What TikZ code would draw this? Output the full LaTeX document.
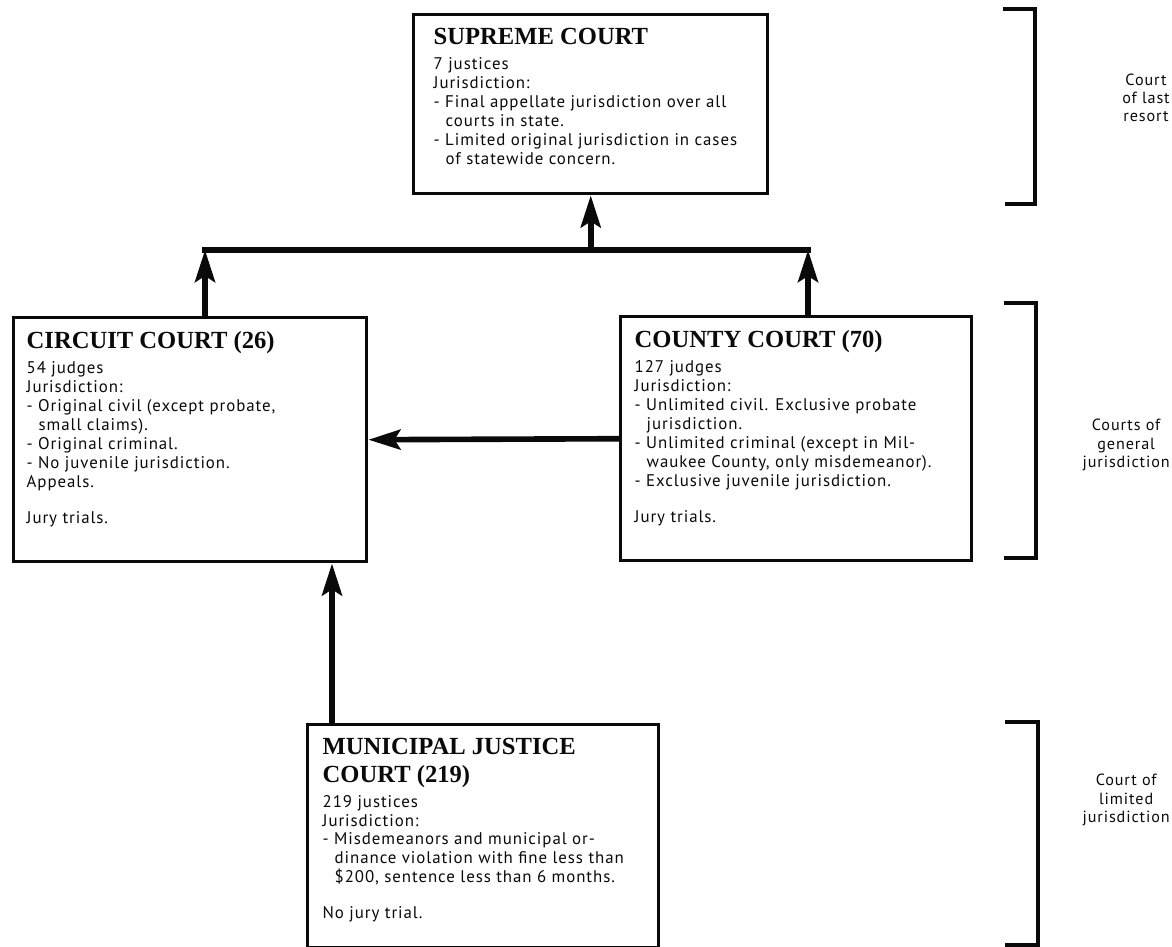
\documentclass[tikz,border=0pt]{standalone}
\usepackage{fontspec}
\usepackage{tikz}
\usetikzlibrary{arrows.meta, positioning}
\newfontfamily\headfont{Liberation Serif}
\newfontfamily\bodyfont{PT Sans}[LetterSpace=5.5]
\definecolor{ink}{HTML}{0A0A0A}
\newcommand{\courthead}{\headfont\bfseries\fontsize{17.5}{19.5}\selectfont}
\newcommand{\courttext}{\bodyfont\fontsize{12}{13.5}\selectfont}
\newcommand{\contind}{\hspace*{0.3cm}}
\tikzset{
  court/.style  ={draw=ink, line width=2.4pt, anchor=north west, inner ysep=0.35cm,
                  fill=white, text=ink},
  flow/.style   ={-{Stealth[length=8mm,width=5mm,inset=1.5mm]}, line width=4pt, draw=ink},
  rail/.style   ={line width=4pt, draw=ink, line cap=rect},
  bracket/.style={line width=2.2pt, draw=ink},
  tier/.style   ={font=\bodyfont\fontsize{11.5}{13}\selectfont, align=center, text=ink,
                  anchor=east, inner sep=0pt}
}

\begin{document}
\begin{tikzpicture}[x=0.025cm, y=-0.025cm]
  \useasboundingbox (0,0) rectangle (1172,947);

  % Courts
  \node[court, inner xsep=0.5cm] (supreme) at (412,13) {%
    \begin{minipage}[t][3.775cm][t]{7.85cm}\raggedright
      {\courthead SUPREME COURT\par}\vspace{4pt}
      \courttext 7 justices\\
      Jurisdiction:\\
      \mbox{- Final appellate jurisdiction over all}\\
      \contind courts in state.\\
      \mbox{- Limited original jurisdiction in cases}\\
      \contind of statewide concern.
    \end{minipage}};
  \node[court, inner xsep=0.325cm] (circuit) at (12,316) {%
    \begin{minipage}[t][5.4cm][t]{8.175cm}\raggedright
      {\courthead CIRCUIT COURT (26)\par}\vspace{4pt}
      \courttext 54 judges\\
      Jurisdiction:\\
      - Original civil (except probate,\\
      \contind small claims).\\
      - Original criminal.\\
      - No juvenile jurisdiction.\\
      Appeals.\\[12pt]
      Jury trials.
    \end{minipage}};
  \node[court, inner xsep=0.35cm] (county) at (619,315) {%
    \begin{minipage}[t][5.4cm][t]{8.075cm}\raggedright
      {\courthead COUNTY COURT (70)\par}\vspace{4pt}
      \courttext 127 judges\\
      Jurisdiction:\\
      \mbox{- Unlimited civil. Exclusive probate}\\
      \contind jurisdiction.\\
      \mbox{- Unlimited criminal (except in Mil-}\\
      \contind\mbox{waukee County, only misdemeanor).}\\
      - Exclusive juvenile jurisdiction.\\[12pt]
      Jury trials.
    \end{minipage}};
  \node[court, inner xsep=0.375cm] (municipal) at (306,723) {%
    \begin{minipage}[t][4.875cm][t]{8.025cm}\raggedright
      {\courthead MUNICIPAL JUSTICE\\COURT (219)\par}\vspace{4pt}
      \courttext 219 justices\\
      Jurisdiction:\\
      \mbox{- Misdemeanors and municipal or-}\\
      \contind\mbox{dinance violation with fine less than}\\
      \contind\mbox{\$200, sentence less than 6 months.}\\[12pt]
      No jury trial.
    \end{minipage}};

  % Appeal routes
  \coordinate (jl) at (205,250);
  \coordinate (jr) at (808,250);
  \coordinate (jm) at (332,650);
  \draw[rail] (jl) -- (jr);
  \draw[flow] (circuit.north -| jl) -- (jl);
  \draw[flow] (county.north -| jr) -- (jr);
  \draw[flow] (supreme.south |- jl) -- (supreme.south);
  \draw[flow] (county.west) -- (circuit.east);
  \draw[flow] (municipal.north -| jm) -- (circuit.south -| jm);

  % Tiers
  \draw[bracket] (1003,9) -- (1035,9) -- (1035,204) -- (1005,204);
  \draw[bracket] (1004,303) -- (1036,303) -- (1036,558) -- (1004,558);
  \draw[bracket] (1005,722) -- (1038,722) -- (1038,945) -- (1005,945);
  \node[tier] (lastresort) at (1170,98) {Court\\of last\\resort};
  \node[tier] (general) at (1170,445) {Courts of\\general\\jurisdiction};
  \node[tier] (limited) at (1170,800) {Court of\\limited\\jurisdiction};
\end{tikzpicture}
\end{document}
